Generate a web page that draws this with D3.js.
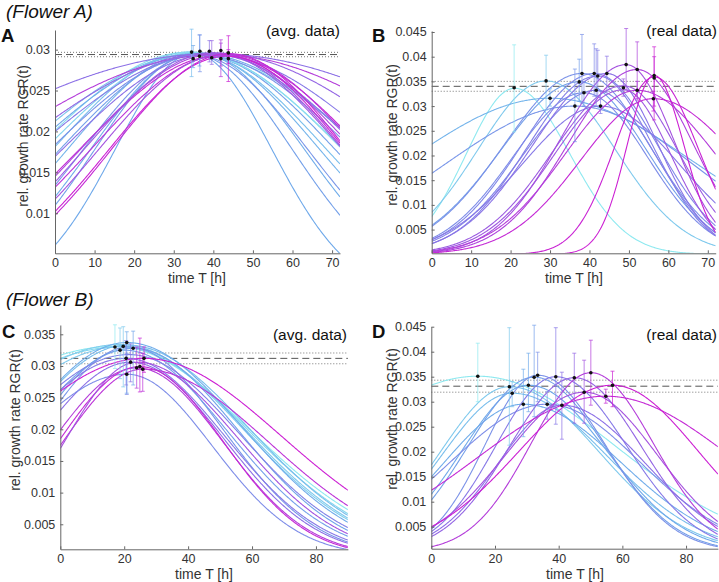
<!DOCTYPE html>
<html>
<head>
<meta charset="utf-8">
<script src="https://cdn.jsdelivr.net/npm/d3@7"></script>
<style>
  body { margin: 0; background: #fff; }
  svg { font-family: "Liberation Sans", Arial, Helvetica, sans-serif; }
</style>
</head>
<body>
<svg id="fig" width="719" height="582"></svg>
<script>
// Fitted growth curves:
// [peak time (h), peak RGR, width left of peak (h), width right of peak (h), shade 0 = cyan .. 1 = magenta]
const curvesA = [
  [35, 0.0295, 19.7, 19.7, 0.30], [35, 0.0294, 24.9, 24.9, 0.35], [36, 0.0296, 26.8, 26.8, 0.28],
  [35.5, 0.0293, 28.4, 28.4, 0.40], [35, 0.0296, 31.6, 31.6, 0.25], [36, 0.0294, 34.7, 34.7, 0.35],
  [34, 0.0297, 34.2, 34.2, 0.20], [35, 0.0296, 37.3, 37.3, 0.10], [34, 0.0297, 38.5, 38.5, 0.05],
  [36, 0.0295, 42.2, 42.2, 0.30], [35, 0.0294, 43.4, 43.4, 0.18], [37, 0.0293, 38.3, 38.3, 0.42],
  [40, 0.0295, 71.3, 71.3, 0.60], [41, 0.0294, 58.6, 58.6, 0.85], [40, 0.0296, 50.6, 50.6, 0.65],
  [39, 0.0295, 44.2, 44.2, 0.55], [39.5, 0.0294, 37.6, 37.6, 0.60], [42, 0.0293, 35.9, 35.9, 0.95],
  [41, 0.0295, 34.4, 34.4, 0.80], [40, 0.0296, 32.4, 32.4, 0.70], [43, 0.0294, 33.9, 33.9, 0.90],
  [42, 0.0293, 31.0, 31.0, 0.75], [43.5, 0.0292, 30.0, 30.0, 1.00], [44, 0.0295, 29.6, 29.6, 0.95]
];
const curvesB = [
  [21.0, 0.0336, 12.2, 14, 0.00], [29.0, 0.0351, 17.2, 17.5, 0.15], [30.0, 0.0316, 35.9, 35.6, 0.25],
  [36.3, 0.0300, 33, 30, 0.40], [37.4, 0.0349, 19.8, 17, 0.35], [38.1, 0.0366, 19.7, 17, 0.42],
  [38.6, 0.0327, 17.9, 16, 0.45], [41.2, 0.0366, 18.3, 16, 0.48], [41.7, 0.0332, 18.5, 15, 0.50],
  [42.1, 0.0361, 17.7, 14, 0.52], [42.8, 0.0300, 19.9, 20, 0.55], [44.4, 0.0366, 18.7, 13, 0.58],
  [48.6, 0.0341, 18.0, 14, 0.70], [48.6, 0.0333, 17.5, 12, 0.72], [49.3, 0.0384, 16.7, 12, 0.75],
  [52.1, 0.0374, 17.3, 14, 0.82], [52.1, 0.0332, 18.4, 20, 0.85], [56.4, 0.0362, 6.9, 7.6, 1.00],
  [56.2, 0.0315, 18.4, 22, 0.95], [56.4, 0.0359, 10, 11, 0.98]
];
const curvesC = [
  [17.0, 0.0331, 57.8, 42.0, 0.00], [18.5, 0.0330, 55.2, 40.0, 0.08], [19.7, 0.0331, 46.0, 38.0, 0.15],
  [19.0, 0.0334, 49.2, 37.8, 0.12], [21.0, 0.0333, 34.0, 38.0, 0.20], [20.8, 0.0337, 33.5, 36.0, 0.28],
  [22.8, 0.0328, 34.0, 32.8, 0.32], [20.0, 0.0325, 28.5, 32.3, 0.35], [21.5, 0.0330, 27.8, 29.4, 0.40],
  [21.5, 0.0318, 37.6, 34.6, 0.50], [20.6, 0.0312, 34.9, 30.9, 0.55], [22.0, 0.0306, 29.1, 29.1, 0.60],
  [20.8, 0.0287, 34.8, 26.7, 0.45], [23.9, 0.0297, 26.7, 27.0, 0.85], [24.9, 0.0299, 25.4, 26.0, 0.95],
  [25.8, 0.0295, 25.2, 39.6, 0.90], [26.2, 0.0312, 43.4, 43.0, 1.00], [24.0, 0.0306, 22.1, 31.7, 0.75]
];
const curvesD = [
  [14.6, 0.0351, 45.0, 42.9, 0.00], [24.5, 0.0330, 21.6, 28.1, 0.15], [25.4, 0.0317, 22.2, 29.7, 0.20],
  [28.9, 0.0295, 24.8, 30.6, 0.28], [30.5, 0.0333, 20.9, 24.6, 0.30], [32.3, 0.0349, 20.7, 22.2, 0.35],
  [33.4, 0.0353, 16.5, 21.2, 0.42], [36.4, 0.0295, 30.5, 29.2, 0.45], [39.1, 0.0350, 18.8, 22.2, 0.55],
  [41.0, 0.0293, 19.9, 26.1, 0.60], [44.9, 0.0348, 20.3, 21.0, 0.65], [48.0, 0.0319, 24.7, 23.0, 0.75],
  [50.1, 0.0358, 18.7, 19.6, 0.85], [54.8, 0.0311, 40.2, 39.7, 0.95], [56.9, 0.0333, 29.2, 26.8, 1.00]
];

// Peak estimates with error bars: [time, RGR, lower, upper, shade]
const pointsA = [
  [34.5, 0.0297, 0.0267, 0.0325, 0.20], [34.9, 0.0289, 0.0278, 0.0305, 0.30],
  [36.5, 0.0292, 0.0280, 0.0318, 0.35], [36.6, 0.0298, 0.0273, 0.0318, 0.40],
  [39.0, 0.0298, 0.0285, 0.0311, 0.60], [39.6, 0.0290, 0.0282, 0.0311, 0.65],
  [41.9, 0.0299, 0.0267, 0.0312, 0.85], [41.9, 0.0289, 0.0280, 0.0308, 0.80],
  [43.8, 0.0296, 0.0261, 0.0317, 1.00], [43.8, 0.0289, 0.0283, 0.0300, 0.95]
];
const pointsB = [
  [20.9, 0.0337, 0.0248, 0.0424, 0.00], [29.0, 0.0351, 0.0292, 0.0403, 0.15],
  [30.0, 0.0316, 0.0300, 0.0335, 0.25], [36.3, 0.0300, 0.0228, 0.0375, 0.40],
  [37.4, 0.0349, 0.0310, 0.0395, 0.35], [38.1, 0.0366, 0.0306, 0.0445, 0.42],
  [38.6, 0.0327, 0.0300, 0.0350, 0.45], [41.2, 0.0366, 0.0320, 0.0426, 0.48],
  [41.7, 0.0332, 0.0300, 0.0416, 0.50], [42.1, 0.0361, 0.0320, 0.0413, 0.52],
  [42.8, 0.0300, 0.0285, 0.0330, 0.55], [44.4, 0.0366, 0.0330, 0.0401, 0.58],
  [48.6, 0.0337, 0.0320, 0.0355, 0.70], [49.3, 0.0384, 0.0333, 0.0457, 0.75],
  [52.1, 0.0374, 0.0312, 0.0430, 0.82], [52.1, 0.0332, 0.0315, 0.0350, 0.85],
  [56.4, 0.0362, 0.0272, 0.0420, 1.00], [56.4, 0.0357, 0.0300, 0.0400, 0.98],
  [56.2, 0.0315, 0.0290, 0.0330, 0.95]
];
const pointsC = [
  [17.1, 0.0330, 0.0296, 0.0365, 0.00], [18.7, 0.0325, 0.0280, 0.0360, 0.12],
  [19.7, 0.0331, 0.0267, 0.0362, 0.15], [20.8, 0.0337, 0.0257, 0.0354, 0.28],
  [22.8, 0.0328, 0.0270, 0.0355, 0.32], [20.6, 0.0312, 0.0270, 0.0340, 0.55],
  [22.0, 0.0306, 0.0275, 0.0335, 0.60], [23.9, 0.0297, 0.0265, 0.0330, 0.85],
  [24.9, 0.0299, 0.0259, 0.0344, 0.95], [25.8, 0.0295, 0.0260, 0.0320, 0.90],
  [26.2, 0.0312, 0.0290, 0.0330, 1.00], [20.8, 0.0287, 0.0255, 0.0320, 0.45]
];
const pointsD = [
  [14.6, 0.0351, 0.0300, 0.0417, 0.00], [24.5, 0.0330, 0.0213, 0.0448, 0.15],
  [25.4, 0.0317, 0.0290, 0.0340, 0.20], [28.9, 0.0295, 0.0230, 0.0365, 0.28],
  [30.5, 0.0333, 0.0280, 0.0397, 0.30], [32.3, 0.0349, 0.0270, 0.0453, 0.35],
  [33.4, 0.0353, 0.0300, 0.0399, 0.42], [36.4, 0.0295, 0.0265, 0.0320, 0.45],
  [39.1, 0.0350, 0.0255, 0.0448, 0.55], [41.0, 0.0293, 0.0225, 0.0359, 0.60],
  [44.9, 0.0348, 0.0257, 0.0397, 0.65], [48.0, 0.0319, 0.0257, 0.0383, 0.75],
  [50.1, 0.0358, 0.0293, 0.0423, 0.85], [54.8, 0.0311, 0.0297, 0.0325, 0.95],
  [56.9, 0.0333, 0.0290, 0.0361, 1.00]
];

// mean peak RGR and its spread (dashed / dotted lines)
const meanA = [0.0294, 0.00027];
const meanB = [0.0340, 0.0010];
const meanC = [0.0312, 0.00085];
const meanD = [0.0331, 0.0012];

const yTicksA = [0.01, 0.015, 0.02, 0.025, 0.03];
const yTicksB = [0.005, 0.01, 0.015, 0.02, 0.025, 0.03, 0.035, 0.04, 0.045];
const yTicksC = [0.005, 0.01, 0.015, 0.02, 0.025, 0.03, 0.035];
const yTicksD = [0.005, 0.01, 0.015, 0.02, 0.025, 0.03, 0.035, 0.04, 0.045];
const xTicksAB = [0, 10, 20, 30, 40, 50, 60, 70];
const xTicksCD = [0, 20, 40, 60, 80];

const svg = d3.select("#fig");
const shade = d3.scaleLinear()
  .domain([0, 0.3, 0.6, 1])
  .range(["#8ee9f0", "#6fa9ea", "#8c70e6", "#cc1fd3"]);

// split gaussian through the fitted peak
const rgr = (c, t) => {
  const s = t < c[0] ? c[2] : c[3];
  return c[1] * Math.exp(-((t - c[0]) ** 2) / (2 * s * s));
};
const fmt = (d) => String(+d.toFixed(4));

const panels = [
  { id: "A", curves: curvesA, points: pointsA, mean: meanA, yTicks: yTicksA, xTicks: xTicksAB,
    xMax: 72, yDom: [0.0051, 0.0324], left: 55, right: 340, top: 30, bottom: 253.3,
    note: "(avg. data)", letter: [1, 42], noteXY: [340, 36], yLab: [23, 136], xLab: [197, 282.5] },
  { id: "B", curves: curvesB, points: pointsB, mean: meanB, yTicks: yTicksB, xTicks: xTicksAB,
    xMax: 72, yDom: [0.0002, 0.0452], left: 431.7, right: 715.7, top: 31, bottom: 253.3,
    note: "(real data)", letter: [372, 42], noteXY: [717, 36], yLab: [392, 135], xLab: [574, 282.5] },
  { id: "C", curves: curvesC, points: pointsC, mean: meanC, yTicks: yTicksC, xTicks: xTicksCD,
    xMax: 90, yDom: [0.00105, 0.03647], left: 60.3, right: 347.9, top: 325, bottom: 549.3,
    note: "(avg. data)", letter: [2, 337.5], noteXY: [347, 339.5], yLab: [15, 420], xLab: [204, 578.5] },
  { id: "D", curves: curvesD, points: pointsD, mean: meanD, yTicks: yTicksD, xTicks: xTicksCD,
    xMax: 90, yDom: [0.0006, 0.045], left: 431.3, right: 717.9, top: 326.7, bottom: 548.7,
    note: "(real data)", letter: [372, 337.5], noteXY: [717, 339.5], yLab: [392, 419], xLab: [575, 579] }
];

panels.forEach((p) => {
  const x = d3.scaleLinear().domain([0, p.xMax]).range([p.left, p.right]);
  const y = d3.scaleLinear().domain(p.yDom).range([p.bottom, p.top]);
  const g = svg.append("g");

  g.append("clipPath").attr("id", "clip" + p.id)
    .append("rect")
    .attr("x", p.left).attr("y", p.top)
    .attr("width", p.right - p.left).attr("height", p.bottom - p.top);

  // mean and spread
  const [m, sd] = p.mean;
  [[m, "7,4", 1, "#555"], [m + sd, "1,2", 0.9, "#666"], [m - sd, "1,2", 0.9, "#666"]].forEach((l) => {
    g.append("line")
      .attr("x1", p.left).attr("x2", p.right)
      .attr("y1", y(l[0])).attr("y2", y(l[0]))
      .attr("stroke", l[3]).attr("stroke-width", l[2])
      .attr("stroke-dasharray", l[1]);
  });

  // curves
  const line = d3.line().x((d) => x(d[0])).y((d) => y(d[1]));
  const ts = d3.range(0, p.xMax + 0.01, 0.25);
  g.append("g").attr("clip-path", `url(#clip${p.id})`)
    .selectAll("path")
    .data(p.curves)
    .join("path")
    .attr("d", (c) => line(ts.map((t) => [t, rgr(c, t)])))
    .attr("fill", "none")
    .attr("stroke", (c) => shade(c[4]))
    .attr("stroke-width", 1.1);

  // error bars
  const eb = g.append("g").attr("stroke-width", 1);
  p.points.forEach((d) => {
    const col = d3.color(shade(d[4]));
    col.opacity = 0.7;
    const cx = x(d[0]);
    eb.append("line").attr("x1", cx).attr("x2", cx)
      .attr("y1", y(d[2])).attr("y2", y(d[3])).attr("stroke", col);
    [d[2], d[3]].forEach((v) => {
      eb.append("line").attr("x1", cx - 2).attr("x2", cx + 2)
        .attr("y1", y(v)).attr("y2", y(v)).attr("stroke", col);
    });
  });
  g.append("g").selectAll("circle")
    .data(p.points)
    .join("circle")
    .attr("cx", (d) => x(d[0]))
    .attr("cy", (d) => y(d[1]))
    .attr("r", 1.8)
    .attr("fill", "#111");

  // axes, ticks pointing inward like the original
  const yAxis = d3.axisLeft(y).tickValues(p.yTicks).tickFormat(fmt)
    .tickSizeInner(-3).tickSizeOuter(0).tickPadding(5);
  const xAxis = d3.axisBottom(x).tickValues(p.xTicks)
    .tickSizeInner(-3).tickSizeOuter(0).tickPadding(5);

  const ya = g.append("g").attr("transform", `translate(${p.left},0)`).call(yAxis);
  const xa = g.append("g").attr("transform", `translate(0,${p.bottom})`).call(xAxis);
  [ya, xa].forEach((a) => {
    a.select(".domain").attr("stroke", "#666");
    a.selectAll(".tick line").attr("stroke", "#666");
    a.selectAll("text").attr("fill", "#333").attr("font-size", 12.5)
      .attr("font-family", "'Liberation Sans', Arial, sans-serif");
  });

  g.append("text")
    .attr("transform", `translate(${p.yLab[0]},${p.yLab[1]}) rotate(-90)`)
    .attr("text-anchor", "middle").attr("dy", "0.35em")
    .attr("font-size", 14).attr("fill", "#333")
    .text("rel. growth rate RGR(t)");
  g.append("text")
    .attr("x", p.xLab[0]).attr("y", p.xLab[1])
    .attr("text-anchor", "middle")
    .attr("font-size", 14).attr("fill", "#333")
    .text("time T [h]");

  g.append("text")
    .attr("x", p.letter[0]).attr("y", p.letter[1])
    .attr("font-size", 18.5).attr("font-weight", "bold").attr("fill", "#111")
    .text(p.id);
  g.append("text")
    .attr("x", p.noteXY[0]).attr("y", p.noteXY[1])
    .attr("text-anchor", "end")
    .attr("font-size", 15.5).attr("fill", "#111")
    .text(p.note);
});

svg.append("text").attr("x", 6).attr("y", 18)
  .attr("font-size", 19).attr("font-style", "italic").attr("fill", "#111")
  .text("(Flower A)");
svg.append("text").attr("x", 6).attr("y", 306)
  .attr("font-size", 19).attr("font-style", "italic").attr("fill", "#111")
  .text("(Flower B)");
</script>
</body>
</html>
